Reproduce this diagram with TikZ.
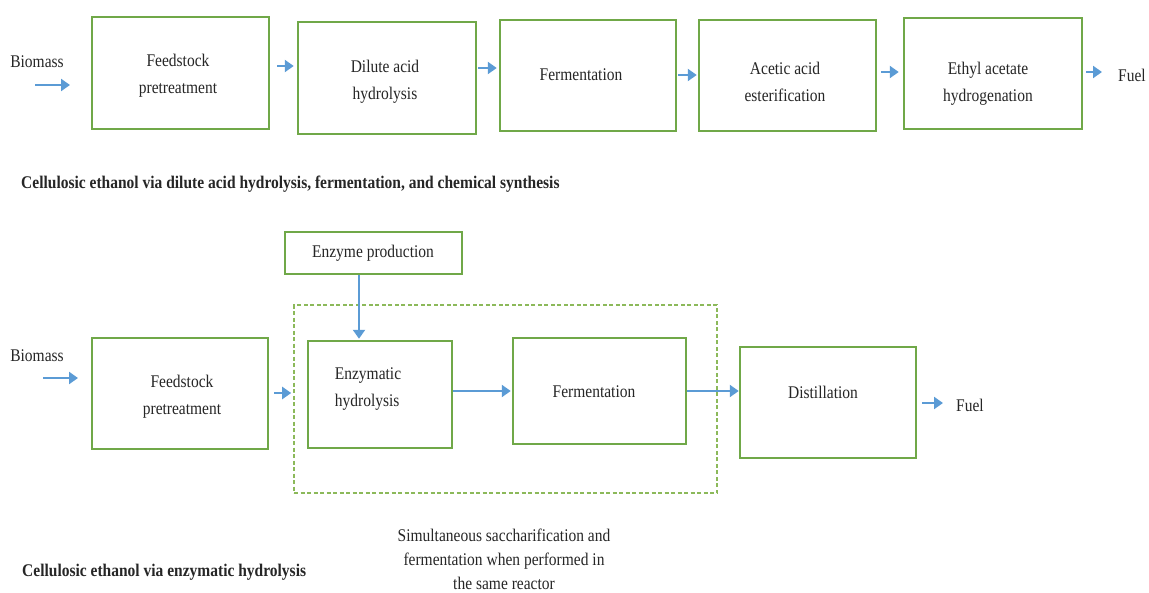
\documentclass[tikz,border=0pt]{standalone}
\usepackage{fontspec}
\setmainfont{Liberation Serif}
\usetikzlibrary{arrows.meta,calc}
\definecolor{boxgreen}{RGB}{112,168,72}
\definecolor{dashgreen}{RGB}{140,185,90}
\definecolor{flowblue}{RGB}{91,155,213}
\tikzset{
  box/.style={draw=boxgreen, line width=2.5pt, fill=white, inner sep=0pt},
  ssf/.style={draw=dashgreen, line width=1.6pt, dash pattern=on 4pt off 2.5pt, inner sep=0pt},
  txt/.style={font=\fontsize{15.5}{23.5}\selectfont, align=center, yscale=1.15, inner sep=0pt, text=black!85},
  captxt/.style={txt, font=\fontsize{15.5}{23.5}\selectfont\bfseries},
  arr/.style={draw=flowblue, line width=2.6pt, -{Triangle[length=9pt,width=12pt]}},
}
\begin{document}
\begin{tikzpicture}[x=1pt, y=-1pt]
\useasboundingbox (0,0) rectangle (1149,592);

% ---------- route 1: dilute acid hydrolysis + chemical synthesis ----------
\node[box, minimum width=177pt, minimum height=112pt] (B1) at (180.5,73) {};
\node[box, minimum width=178pt, minimum height=112pt] (B2) at (387,78) {};
\node[box, minimum width=176pt, minimum height=111pt] (B3) at (588,75.5) {};
\node[box, minimum width=177pt, minimum height=111pt] (B4) at (787.5,75.5) {};
\node[box, minimum width=178pt, minimum height=111pt] (B5) at (993,73.5) {};

\node[txt] (t1) at (178,76) {Feedstock\\pretreatment};
\node[txt] (t2) at (385,82) {Dilute acid\\hydrolysis};
\node[txt] (t3) at (581,75) {Fermentation};
\node[txt] (t4) at (785,82) {Acetic acid\\esterification};
\node[txt] (t5) at (988,83.5) {Ethyl acetate\\hydrogenation};

\node[txt] (bio1) at (37,62) {Biomass};
\node[txt] (fuel1) at (1132,75) {Fuel};
\coordinate (in1s) at (35,85);
\coordinate (in1e) at (70,85);
\coordinate (out1) at (1102,72);

\draw[arr] (in1s) -- (in1e);
\draw[arr, shorten <=7pt, shorten >=3pt] (B1.east |- 0,66) -- (B2.west |- 0,66);
\draw[arr, shorten <=1pt, shorten >=2pt] (B2.east |- 0,68) -- (B3.west |- 0,68);
\draw[arr, shorten <=1pt, shorten >=1pt] (B3.east |- 0,75) -- (B4.west |- 0,75);
\draw[arr, shorten <=4pt, shorten >=4pt] (B4.east |- 0,72) -- (B5.west |- 0,72);
\draw[arr, shorten <=3pt] (B5.east |- out1) -- (out1);

\node[captxt, anchor=west] (cap1) at (21,184)
  {Cellulosic ethanol via dilute acid hydrolysis, fermentation, and chemical synthesis};

% ---------- route 2: enzymatic hydrolysis ----------
\node[ssf, minimum width=423pt, minimum height=188pt] (SSF) at (505.5,399) {};

\node[box, minimum width=177pt, minimum height=42pt] (EP) at (373.5,253) {};
\node[box, minimum width=176pt, minimum height=111pt] (F2) at (180,393.5) {};
\node[box, minimum width=144pt, minimum height=107pt] (EH) at (380,394.5) {};
\node[box, minimum width=173pt, minimum height=106pt] (FM) at (599.5,391) {};
\node[box, minimum width=176pt, minimum height=111pt] (DS) at (828,402.5) {};

\node[txt] (tep) at (373,253) {Enzyme production};
\node[txt] (tf2) at (182,396.5) {Feedstock\\pretreatment};
\node[txt, align=left] (teh) at (368,389.5) {Enzymatic\\hydrolysis};
\node[txt] (tfm) at (594,392) {Fermentation};
\node[txt] (tds) at (823,392) {Distillation};

\node[txt] (bio2) at (37,356) {Biomass};
\node[txt] (fuel2) at (970,405) {Fuel};
\coordinate (in2s) at (43,378);
\coordinate (in2e) at (78,378);
\coordinate (out2) at (943,403);

\draw[arr] (in2s) -- (in2e);
\draw[arr, shorten <=5pt, shorten >=2pt] (F2.east |- 0,393) -- (SSF.west |- 0,393);
\draw[arr, shorten >=1pt] (359,0 |- EP.south) -- (359,0 |- EH.north);
\draw[arr, shorten >=1pt] (EH.east |- 0,391) -- (FM.west |- 0,391);
\draw[arr] (FM.east |- 0,391) -- (DS.west |- 0,391);
\draw[arr, shorten <=5pt] (DS.east |- out2) -- (out2);

\node[txt, font=\fontsize{15.5}{21}\selectfont] (ssfnote) at (504,559)
  {Simultaneous saccharification and\\fermentation when performed in\\the same reactor};
\node[captxt, anchor=west] (cap2) at (22,572) {Cellulosic ethanol via enzymatic hydrolysis};
\end{tikzpicture}
\end{document}
